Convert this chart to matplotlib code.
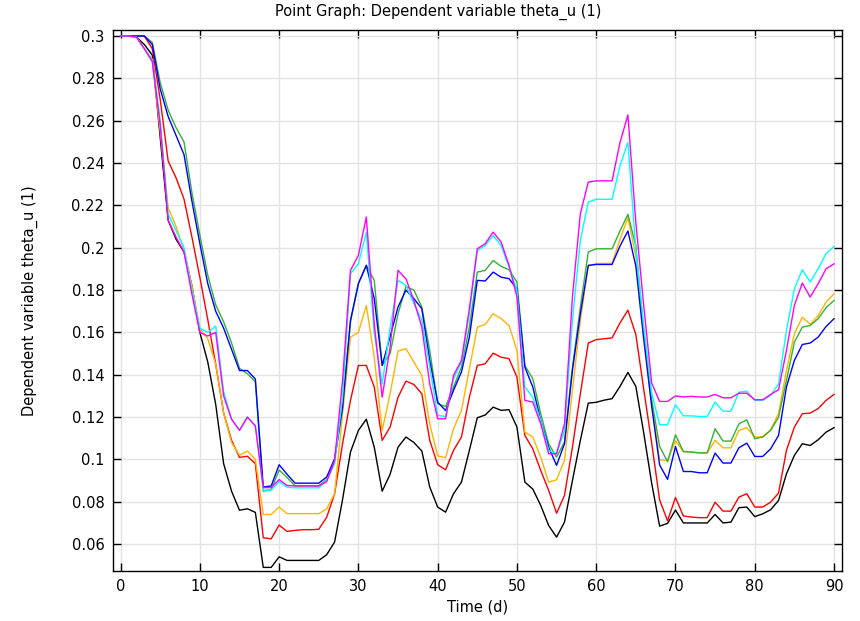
import matplotlib
matplotlib.use('Agg')
import matplotlib.pyplot as plt

# time axis, one point per day
time_d = list(range(0, 91))

black = [0.3, 0.3, 0.2995, 0.296, 0.291, 0.252, 0.213, 0.204, 0.198, 0.182,
         0.16, 0.146, 0.126, 0.098, 0.085, 0.076, 0.0767, 0.075, 0.049, 0.049,
         0.054, 0.0523, 0.0523, 0.0523, 0.0523, 0.0523, 0.055, 0.061, 0.081, 0.1035,
         0.1137, 0.119, 0.1058, 0.085, 0.093, 0.1058, 0.1106, 0.108, 0.104, 0.087,
         0.0775, 0.0751, 0.0838, 0.0893, 0.1043, 0.1197, 0.121, 0.1247, 0.1232, 0.1235,
         0.1153, 0.0893, 0.086, 0.0783, 0.0688, 0.0633, 0.0704, 0.09, 0.109, 0.1266,
         0.127, 0.128, 0.1287, 0.1345, 0.1411, 0.1345, 0.1124, 0.0887, 0.0685, 0.0698,
         0.0761, 0.070, 0.070, 0.070, 0.070, 0.074, 0.070, 0.0704, 0.0772, 0.0775,
         0.073, 0.0743, 0.0762, 0.0806, 0.0932, 0.1019, 0.1074, 0.1066, 0.1093, 0.1129,
         0.115]

red = [0.3, 0.3, 0.3, 0.3, 0.294, 0.270, 0.241, 0.233, 0.223, 0.205,
       0.186, 0.166, 0.145, 0.122, 0.109, 0.101, 0.1015, 0.098, 0.063, 0.0625,
       0.069, 0.066, 0.0665, 0.0668, 0.0668, 0.067, 0.0727, 0.0838, 0.1074, 0.1279,
       0.1444, 0.1444, 0.1342, 0.109, 0.1153, 0.1294, 0.137, 0.1354, 0.131, 0.109,
       0.0975, 0.0951, 0.1043, 0.1106, 0.1294, 0.1444, 0.1452, 0.1502, 0.1483, 0.1476,
       0.1389, 0.1113, 0.105, 0.0948, 0.0854, 0.0746, 0.083, 0.1058, 0.131, 0.155,
       0.1566, 0.157, 0.1574, 0.1645, 0.1705, 0.159, 0.133, 0.1077, 0.0809, 0.071,
       0.082, 0.0733, 0.0728, 0.0725, 0.0725, 0.0798, 0.0756, 0.0756, 0.0822, 0.0838,
       0.0775, 0.0775, 0.0798, 0.0841, 0.1043, 0.1153, 0.1216, 0.1219, 0.124, 0.1279,
       0.1307]

orange = [0.3, 0.3, 0.2995, 0.294, 0.288, 0.255, 0.219, 0.210, 0.199, 0.182,
          0.162, 0.157, 0.145, 0.122, 0.108, 0.102, 0.104, 0.100, 0.074, 0.074,
          0.0775, 0.0744, 0.0744, 0.0744, 0.0744, 0.0744, 0.0767, 0.0838, 0.1216, 0.1578,
          0.16, 0.1727, 0.1483, 0.1137, 0.131, 0.1512, 0.1523, 0.146, 0.1397, 0.1168,
          0.1017, 0.1008, 0.1145, 0.1231, 0.1428, 0.1625, 0.1638, 0.1688, 0.1665, 0.1633,
          0.1515, 0.1129, 0.1106, 0.1011, 0.0893, 0.0904, 0.0996, 0.1326, 0.1657, 0.1912,
          0.1926, 0.1926, 0.1926, 0.204, 0.2142, 0.196, 0.1598, 0.1266, 0.0998, 0.0995,
          0.1089, 0.1037, 0.1035, 0.1031, 0.1031, 0.109, 0.1055, 0.1055, 0.1137, 0.115,
          0.1106, 0.1106, 0.114, 0.1216, 0.142, 0.1594, 0.1672, 0.1638, 0.168, 0.1743,
          0.1783]

green = [0.3, 0.3, 0.3, 0.3, 0.297, 0.278, 0.265, 0.2567, 0.25, 0.226,
         0.206, 0.187, 0.173, 0.165, 0.155, 0.143, 0.1405, 0.1367, 0.085, 0.0858,
         0.095, 0.0915, 0.0875, 0.0875, 0.0875, 0.0875, 0.0905, 0.100, 0.124, 0.165,
         0.183, 0.1917, 0.1846, 0.1444, 0.150, 0.1688, 0.1817, 0.180, 0.172, 0.1515,
         0.1263, 0.125, 0.1342, 0.1436, 0.1625, 0.1885, 0.1893, 0.194, 0.1912, 0.1896,
         0.1838, 0.1444, 0.1381, 0.1216, 0.1074, 0.1011, 0.1082, 0.1436, 0.172, 0.198,
         0.1995, 0.1995, 0.1995, 0.2079, 0.2158, 0.2008, 0.16, 0.1282, 0.1061, 0.099,
         0.1116, 0.1037, 0.1035, 0.1031, 0.1031, 0.1145, 0.1087, 0.1087, 0.1168, 0.1187,
         0.1098, 0.1106, 0.1137, 0.12, 0.1373, 0.1554, 0.1625, 0.1633, 0.1665, 0.1717,
         0.1751]

blue = [0.3, 0.3, 0.3, 0.3, 0.296, 0.275, 0.262, 0.253, 0.244, 0.222,
        0.202, 0.183, 0.170, 0.162, 0.152, 0.142, 0.142, 0.138, 0.087, 0.0875,
        0.0975, 0.093, 0.0888, 0.0888, 0.0888, 0.0888, 0.0917, 0.1003, 0.1247, 0.1657,
        0.1831, 0.1917, 0.176, 0.1444, 0.158, 0.172, 0.180, 0.176, 0.1712, 0.1468,
        0.1271, 0.1231, 0.1326, 0.1413, 0.1578, 0.1846, 0.1843, 0.1885, 0.1861, 0.1854,
        0.1806, 0.1436, 0.1342, 0.1184, 0.1058, 0.0972, 0.1074, 0.142, 0.1688, 0.1917,
        0.1921, 0.1921, 0.1921, 0.2008, 0.2079, 0.1913, 0.1566, 0.125, 0.0974, 0.0906,
        0.1061, 0.0943, 0.0943, 0.0937, 0.0937, 0.103, 0.0983, 0.0983, 0.1055, 0.1077,
        0.1014, 0.1014, 0.105, 0.1113, 0.1342, 0.1468, 0.1543, 0.155, 0.1578, 0.1628,
        0.1665]

cyan = [0.3, 0.3, 0.2995, 0.294, 0.289, 0.260, 0.216, 0.208, 0.200, 0.180,
        0.162, 0.160, 0.163, 0.132, 0.119, 0.114, 0.120, 0.116, 0.0855, 0.0855,
        0.0895, 0.0869, 0.0866, 0.0866, 0.0866, 0.0866, 0.0901, 0.098, 0.1294, 0.1877,
        0.1924, 0.2074, 0.1594, 0.1357, 0.162, 0.1846, 0.1822, 0.1735, 0.1657, 0.1436,
        0.1208, 0.1203, 0.1381, 0.146, 0.1688, 0.1987, 0.2011, 0.2058, 0.2011, 0.1909,
        0.1798, 0.1342, 0.1294, 0.1184, 0.1043, 0.1027, 0.1137, 0.1657, 0.2035, 0.2216,
        0.2229, 0.2229, 0.2229, 0.2387, 0.2497, 0.1992, 0.1629, 0.1313, 0.1164, 0.1164,
        0.1258, 0.1206, 0.1206, 0.1203, 0.1203, 0.1271, 0.1228, 0.1228, 0.1318, 0.1323,
        0.1279, 0.1279, 0.1302, 0.1357, 0.1609, 0.1806, 0.1896, 0.1838, 0.1901, 0.1972,
        0.2006]

magenta = [0.3, 0.3, 0.2995, 0.294, 0.288, 0.258, 0.213, 0.205, 0.198, 0.178,
           0.160, 0.1583, 0.160, 0.130, 0.119, 0.1137, 0.120, 0.1158, 0.0867, 0.0867,
           0.0905, 0.0877, 0.0875, 0.0875, 0.0875, 0.0875, 0.0895, 0.0995, 0.1373, 0.1893,
           0.1964, 0.2145, 0.1641, 0.1294, 0.153, 0.1893, 0.1853, 0.1751, 0.1625, 0.1357,
           0.1192, 0.1192, 0.1397, 0.1468, 0.1712, 0.1995, 0.2019, 0.2074, 0.2027, 0.1917,
           0.1767, 0.1279, 0.1271, 0.1168, 0.1027, 0.1027, 0.1168, 0.1767, 0.2161, 0.231,
           0.2316, 0.2316, 0.2316, 0.2497, 0.2627, 0.2119, 0.1724, 0.1361, 0.1274, 0.1274,
           0.130, 0.1295, 0.1298, 0.1295, 0.1295, 0.1307, 0.1291, 0.1291, 0.1313, 0.1313,
           0.1282, 0.1282, 0.1307, 0.1329, 0.1515, 0.1728, 0.1833, 0.1767, 0.183, 0.1901,
           0.1924]

x_ticks = [0, 10, 20, 30, 40, 50, 60, 70, 80, 90]
y_ticks = [0.06, 0.08, 0.1, 0.12, 0.14, 0.16, 0.18, 0.2, 0.22, 0.24, 0.26, 0.28, 0.3]

series = [
    (black, 'black'),
    (red, '#ff0000'),
    (orange, '#ffb400'),
    (green, '#33b233'),
    (blue, '#0000ff'),
    (cyan, '#00ffff'),
    (magenta, '#ff00ff'),
]

fig = plt.figure(figsize=(8.6, 6.21), dpi=100)
ax = fig.add_axes([0.131, 0.0805, 0.848, 0.871])

for values, color in series:
    ax.plot(time_d, values, color=color, linewidth=1.0)

ax.set_xlim(-1.0, 91.0)
ax.set_ylim(0.0473, 0.3028)
ax.set_xticks(x_ticks)
ax.set_yticks(y_ticks)
ax.set_yticklabels(['%g' % v for v in y_ticks])
ax.grid(True, color='#e3e3e3', linewidth=1.0)
ax.set_axisbelow(True)
ax.tick_params(direction='in', top=True, right=True, length=6, width=1,
               labelsize=10.5, pad=6)
for spine in ax.spines.values():
    spine.set_linewidth(1.0)

ax.set_xlabel('Time (d)', fontsize=10.5, labelpad=4)
ax.set_ylabel('Dependent variable theta_u (1)', fontsize=10.5, labelpad=24)
fig.text(0.51, 0.981, 'Point Graph: Dependent variable theta_u (1)',
         ha='center', va='center', fontsize=10.5)

fig.savefig('out.png', dpi=100)
